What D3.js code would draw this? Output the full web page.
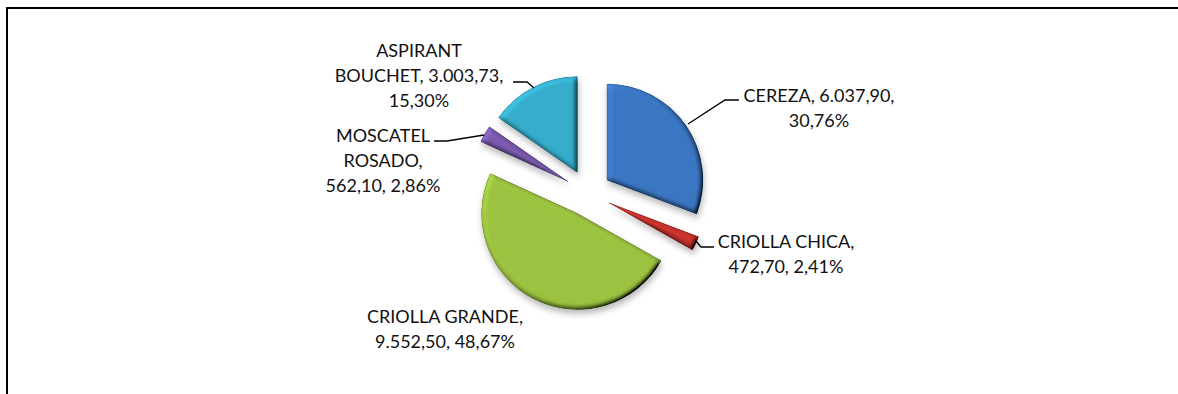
<!DOCTYPE html>
<html>
<head>
<meta charset="utf-8">
<script src="https://cdn.jsdelivr.net/npm/d3@7"></script>
<style>
  html, body { margin: 0; padding: 0; background: #fff; }
  svg { display: block; }
  .lbl { font-family: Lato, "Open Sans", sans-serif; font-size: 18px; fill: #111; }
</style>
</head>
<body>
<svg id="chart" width="1178" height="394"></svg>
<script>
// Grape varieties, value and share
const varieties = ["CEREZA", "CRIOLLA CHICA", "CRIOLLA GRANDE", "MOSCATEL ROSADO", "ASPIRANT BOUCHET"];
const values = [6037.90, 472.70, 9552.50, 562.10, 3003.73];
const valueLabels = ["6.037,90", "472,70", "9.552,50", "562,10", "3.003,73"];
const percentLabels = ["30,76%", "2,41%", "48,67%", "2,86%", "15,30%"];
const colors = ["#3b76c2", "#c8332e", "#9bc23f", "#7c5bb0", "#34adcb"];

// Label text broken into lines
const labelLines = [
  ["CEREZA, " + valueLabels[0] + ",", percentLabels[0]],
  ["CRIOLLA CHICA,", valueLabels[1] + ", " + percentLabels[1]],
  ["CRIOLLA GRANDE,", valueLabels[2] + ", " + percentLabels[2]],
  ["MOSCATEL", "ROSADO,", valueLabels[3] + ", " + percentLabels[3]],
  ["ASPIRANT", "BOUCHET, " + valueLabels[4] + ",", percentLabels[4]]
];
// Label anchor (centre x, first baseline y) and leader polylines
const labelPos = [
  { x: 819, y: 102, anchor: "middle" },
  { x: 786, y: 248, anchor: "middle" },
  { x: 445, y: 323, anchor: "middle" },
  { x: 383, y: 142, anchor: "middle" },
  { x: 419, y: 57, anchor: "middle" }
];
const leaders = [
  [[688, 124], [725, 100], [739, 100]],
  [[695, 240], [701, 247], [714, 247]],
  null,
  [[484, 135], [447, 141], [434, 141]],
  [[534, 88], [527, 82], [513, 82]]
];

const W = 1178, H = 394;
const cx = 588, cy = 193, radius = 96, explode = 23;

const svg = d3.select("#chart");
const defs = svg.append("defs");

// Bevel lighting plus soft drop shadow
const f = defs.append("filter").attr("id", "bevel")
  .attr("x", "-20%").attr("y", "-20%").attr("width", "140%").attr("height", "150%");
f.append("feGaussianBlur").attr("in", "SourceAlpha").attr("stdDeviation", 2.4).attr("result", "blur");
const dl = f.append("feDiffuseLighting").attr("in", "blur").attr("surfaceScale", 4.5)
  .attr("diffuseConstant", 1).attr("lighting-color", "#ffffff").attr("result", "diff");
dl.append("feDistantLight").attr("azimuth", 225).attr("elevation", 52);
f.append("feComposite").attr("in", "diff").attr("in2", "SourceAlpha").attr("operator", "in").attr("result", "diffIn");
f.append("feComposite").attr("in", "SourceGraphic").attr("in2", "diffIn").attr("operator", "arithmetic")
  .attr("k1", 1.27).attr("k2", 0).attr("k3", 0).attr("k4", 0).attr("result", "lit");
f.append("feGaussianBlur").attr("in", "SourceAlpha").attr("stdDeviation", 3).attr("result", "sblur");
f.append("feOffset").attr("in", "sblur").attr("dx", 1).attr("dy", 4).attr("result", "soff");
f.append("feFlood").attr("flood-color", "#000").attr("flood-opacity", 0.28).attr("result", "sflood");
f.append("feComposite").attr("in", "sflood").attr("in2", "soff").attr("operator", "in").attr("result", "shadow");
const merge = f.append("feMerge");
merge.append("feMergeNode").attr("in", "shadow");
merge.append("feMergeNode").attr("in", "lit");

// Chart frame (right and bottom sides fall outside the view)
svg.append("rect")
  .attr("x", 7).attr("y", 8).attr("width", W + 20).attr("height", H + 20)
  .attr("fill", "none").attr("stroke", "#000").attr("stroke-width", 2);

const pie = d3.pie().sort(null).value(d => d)(values);
const arc = d3.arc().innerRadius(0).outerRadius(radius);

const g = svg.append("g").attr("transform", `translate(${cx},${cy})`);
g.selectAll("path.slice")
  .data(pie)
  .join("path")
  .attr("class", "slice")
  .attr("transform", d => {
    const a = (d.startAngle + d.endAngle) / 2;
    return `translate(${explode * Math.sin(a)},${-explode * Math.cos(a)})`;
  })
  .attr("d", arc)
  .attr("fill", (d, i) => colors[i])
  .attr("stroke", (d, i) => d3.color(colors[i]).darker(0.8))
  .attr("stroke-width", 0.6)
  .attr("filter", "url(#bevel)");

// Leader lines
const line = d3.line();
svg.selectAll("path.leader")
  .data(leaders.filter(l => l))
  .join("path")
  .attr("class", "leader")
  .attr("d", line)
  .attr("fill", "none")
  .attr("stroke", "#000")
  .attr("stroke-width", 1.3);

// Data labels
const lineH = 25;
labelLines.forEach((lines, i) => {
  const p = labelPos[i];
  const t = svg.append("text").attr("class", "lbl").attr("text-anchor", p.anchor);
  lines.forEach((s, k) => {
    t.append("tspan").attr("x", p.x).attr("y", p.y + k * lineH).text(s);
  });
});
</script>
</body>
</html>
